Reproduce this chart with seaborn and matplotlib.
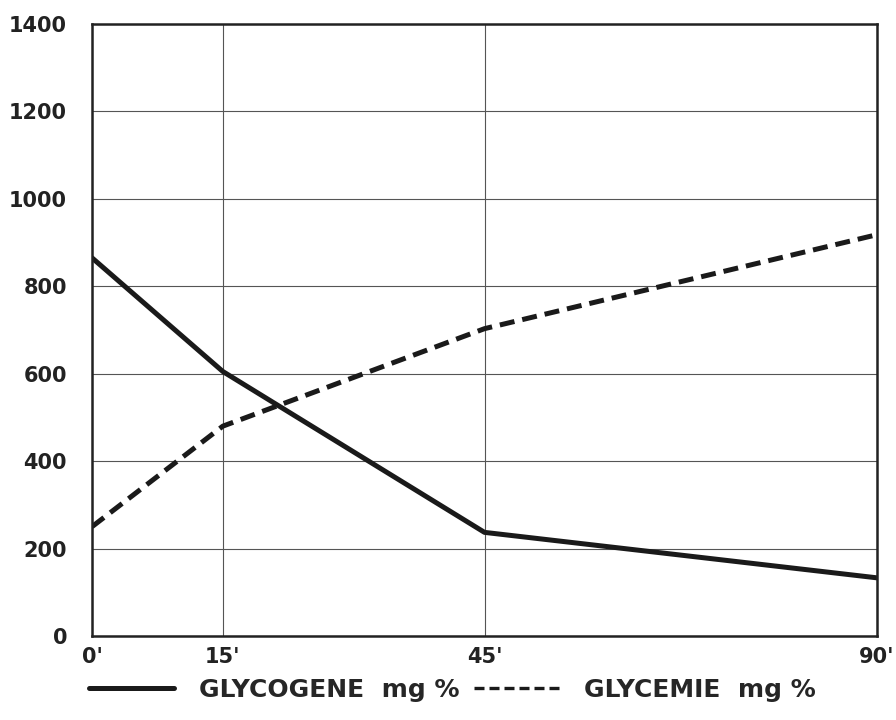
import pandas as pd
import matplotlib
matplotlib.use("Agg")
import matplotlib.pyplot as plt
import seaborn as sns

# temps en minutes et valeurs
TEMPS = [0, 15, 45, 90]
TEMPS_LABELS = ["0'", "15'", "45'", "90'"]
GLYCOGENE = [865, 605, 237, 133]
GLYCEMIE = [250, 480, 703, 918]
Y_TICKS = [0, 200, 400, 600, 800, 1000, 1200, 1400]
SERIES = ["GLYCOGENE  mg %", "GLYCEMIE  mg %"]

df = pd.DataFrame({
    "temps": TEMPS * 2,
    "valeur": GLYCOGENE + GLYCEMIE,
    "serie": [SERIES[0]] * len(TEMPS) + [SERIES[1]] * len(TEMPS),
})

sns.set_style("white")
plt.rcParams['font.family'] = ['DejaVu Sans']

fig, ax = plt.subplots(figsize=(8.96, 7.2), dpi=100)
fig.subplots_adjust(left=0.1027, right=0.9788, top=0.9667, bottom=0.1167)

sns.lineplot(
    data=df, x="temps", y="valeur", style="serie",
    dashes={SERIES[0]: "", SERIES[1]: (3, 1.6)},
    color="#1a1a1a", linewidth=3.6, ax=ax, legend=True,
)

ax.set_xlim(0, 90)
ax.set_ylim(0, 1400)
ax.set_xticks(TEMPS)
ax.set_xticklabels(TEMPS_LABELS, fontsize=15, fontweight="bold")
ax.set_yticks(Y_TICKS)
ax.set_yticklabels([str(v) for v in Y_TICKS], fontsize=15, fontweight="bold")
ax.tick_params(axis="both", length=0, colors="#222222")
ax.tick_params(axis="y", pad=18)
ax.tick_params(axis="x", pad=8)
ax.set_xlabel("")
ax.set_ylabel("")

ax.grid(True, color="#555555", linewidth=0.8)
for s in ax.spines.values():
    s.set_visible(True)
    s.set_color("#222222")
    s.set_linewidth(1.8)

handles, labels = ax.get_legend_handles_labels()
ax.get_legend().remove()
handles[0].set_linewidth(3.6)
handles[1].set_linewidth(2.4)
handles[1].set_dashes((3, 1.5))
fig.legend(
    handles, labels, loc="center", bbox_to_anchor=(0.505, 0.042), ncol=2,
    frameon=False, handlelength=3.4, columnspacing=0.6, handletextpad=1.0,
    prop={"size": 18, "weight": "bold"},
)

fig.savefig("out.png", dpi=100)
